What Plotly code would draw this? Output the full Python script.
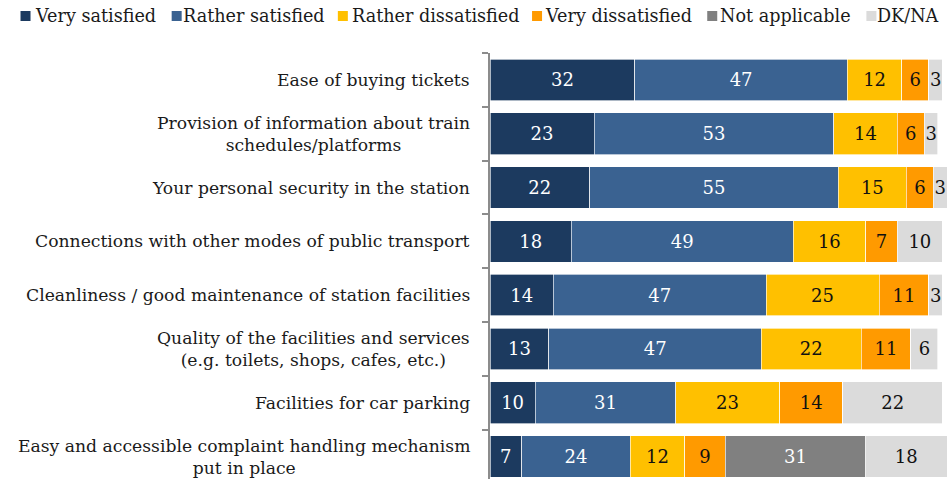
import plotly.graph_objects as go

categories = [
    "Ease of buying tickets",
    "Provision of information about train<br>schedules/platforms",
    "Your personal security in the station",
    "Connections with other modes of public transport",
    "Cleanliness / good maintenance of station facilities",
    "Quality of the facilities and services<br>(e.g. toilets, shops, cafes, etc.)",
    "Facilities for car parking",
    "Easy and accessible complaint handling mechanism<br>put in place",
]

series_names = ["Very satisfied", "Rather satisfied", "Rather dissatisfied",
                "Very dissatisfied", "Not applicable", "DK/NA"]

very_satisfied = [32, 23, 22, 18, 14, 13, 10, 7]
rather_satisfied = [47, 53, 55, 49, 47, 47, 31, 24]
rather_dissatisfied = [12, 14, 15, 16, 25, 22, 23, 12]
very_dissatisfied = [6, 6, 6, 7, 11, 11, 14, 9]
not_applicable = [0, 0, 0, 0, 0, 0, 0, 31]
dk_na = [3, 3, 3, 10, 3, 6, 22, 18]

series_values = [very_satisfied, rather_satisfied, rather_dissatisfied,
                 very_dissatisfied, not_applicable, dk_na]
colors = ["#1c3a5f", "#3a6291", "#ffc000", "#ff9a00", "#808080", "#dbdbdb"]
text_colors = ["white", "white", "#111111", "#111111", "white", "#111111"]

FONT = "DejaVu Serif"
W, H = 947, 479
XMAX = 101
ML, MT, MB = 490, 53, 0
PW = 452 * XMAX / 100
MR = W - ML - PW

cat_idx = list(range(len(categories)))

fig = go.Figure()
for name, vals, col, tc in zip(series_names, series_values, colors, text_colors):
    fig.add_trace(go.Bar(
        y=cat_idx, x=vals, name=name, orientation="h",
        marker=dict(color=col, line=dict(color="rgba(255,255,255,0.8)", width=0.8)),
        text=[str(v) if v > 0 else "" for v in vals],
        textposition="inside", insidetextanchor="middle", textangle=0,
        textfont=dict(family=FONT, size=18, color=tc),
        showlegend=False, cliponaxis=False,
    ))

annotations = []
# category labels (centered multi-line, right aligned block)
for i, c in enumerate(categories):
    annotations.append(dict(
        x=0, xref="paper", xanchor="right", xshift=-18,
        y=i, yref="y", yanchor="middle",
        text=c, showarrow=False, align="center",
        font=dict(family=FONT, size=17.2, color="#1a1a1a"),
    ))

# custom legend
leg_square_px = [21, 172, 338, 532, 707, 866]
leg_text_px = [33, 181, 350, 543, 718, 875]
leg_y_px = 16
sq = 10
shapes = []
def px2x(px):
    return (px - ML) / PW
for name, col, sx, tx in zip(series_names, colors, leg_square_px, leg_text_px):
    shapes.append(dict(
        type="rect", xref="paper", yref="paper",
        x0=px2x(sx), x1=px2x(sx + sq),
        y0=(H - MB - (leg_y_px + sq / 2)) / (H - MT - MB),
        y1=(H - MB - (leg_y_px - sq / 2)) / (H - MT - MB),
        fillcolor=col, line=dict(width=0),
    ))
    annotations.append(dict(
        x=px2x(tx), xref="paper", xanchor="left",
        y=(H - MB - leg_y_px) / (H - MT - MB), yref="paper", yanchor="middle",
        text=name, showarrow=False,
        font=dict(family=FONT, size=17.6, color="#1a1a1a"),
    ))

fig.update_layout(
    width=W, height=H,
    margin=dict(l=ML, r=MR, t=MT, b=MB, pad=0),
    barmode="stack", bargap=0.227,
    plot_bgcolor="white", paper_bgcolor="white",
    uniformtext=dict(minsize=18, mode="show"),
    xaxis=dict(range=[0, XMAX], visible=False, fixedrange=True),
    yaxis=dict(
        type="linear", range=[7.418, -0.5], tickmode="array",
        tickvals=[i - 0.5 for i in range(len(categories) + 1)],
        ticktext=[""] * (len(categories) + 1),
        ticks="outside", ticklen=6, tickwidth=1.5, tickcolor="#8c8c8c",
        showline=True, linecolor="#8c8c8c", linewidth=2,
        showgrid=False, zeroline=False, fixedrange=True,
    ),
    annotations=annotations, shapes=shapes,
    showlegend=False,
)

fig.write_html("out.html", config={"displayModeBar": False},
               post_script="document.body.style.margin='0';document.body.style.overflow='hidden';")
